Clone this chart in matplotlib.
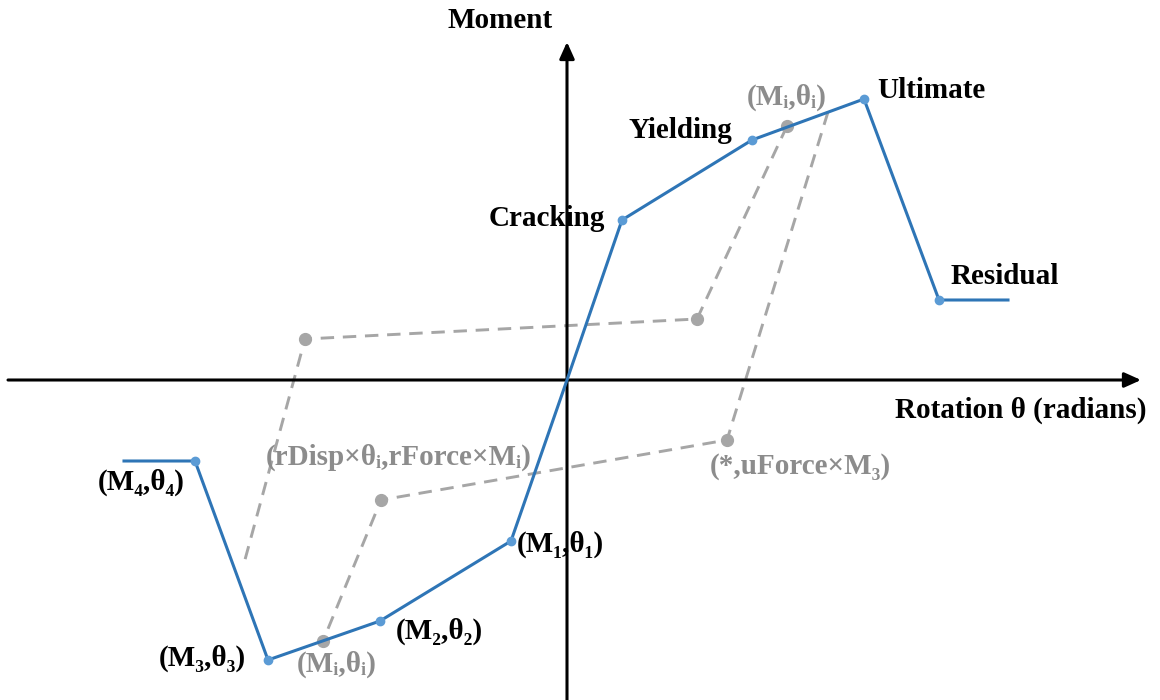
import matplotlib
matplotlib.use("Agg")
import matplotlib.pyplot as plt

plt.rcParams["font.family"] = ["Liberation Serif", "DejaVu Serif"]

# ── backbone curve (rotation, moment), arbitrary units ─────────────
backbone_theta = [-44.3, -37.2, -29.9, -18.7, -5.6, 0.0, 5.5, 18.5, 29.7, 37.2, 44.1]
backbone_M = [-8.1, -8.1, -28.0, -24.1, -16.1, 0.0, 16.0, 24.0, 28.1, 8.0, 8.0]
# which backbone points get a dot
backbone_dot = [False, True, True, True, True, False, True, True, True, True, False]

# ── unloading / reloading paths ────────────────────────────────────
path1_theta = [22.0, 13.0, -26.2, -32.4]
path1_M = [25.4, 6.1, 4.1, -18.7]
path1_dot = [True, True, True, False]

path2_theta = [26.1, 16.0, -18.6, -24.4]
path2_M = [26.8, -6.0, -12.0, -26.1]
path2_dot = [False, True, True, True]

BLUE = "#2e75b6"
BLUE_DOT = "#5b9bd5"
GRAY = "#a6a6a6"
GRAY_TXT = "#8c8c8c"

fig = plt.figure(figsize=(11.6, 7), dpi=100)
ax = fig.add_axes([0, 0, 1, 1])
ax.set_xlim(-56.7, 59.3)
ax.set_ylim(-32.0, 38.0)
ax.axis("off")

# axes with arrows
ax.annotate("", xy=(57.4, 0), xytext=(-55.9, 0),
            arrowprops=dict(arrowstyle="-|>,head_length=1.0,head_width=0.45",
                            color="black", lw=2.2, shrinkA=0, shrinkB=0))
ax.annotate("", xy=(0, 33.8), xytext=(0, -32.5),
            arrowprops=dict(arrowstyle="-|>,head_length=1.0,head_width=0.45",
                            color="black", lw=2.2, shrinkA=0, shrinkB=0))

# gray dashed paths
for th, m, dots in [(path1_theta, path1_M, path1_dot), (path2_theta, path2_M, path2_dot)]:
    ax.plot(th, m, color=GRAY, lw=2.1, dashes=(4.6, 3), zorder=2)
    ax.plot([t for t, d in zip(th, dots) if d], [v for v, d in zip(m, dots) if d],
            "o", color=GRAY, ms=8.5, zorder=3)

# backbone
ax.plot(backbone_theta, backbone_M, color=BLUE, lw=2.2, zorder=4)
ax.plot([t for t, d in zip(backbone_theta, backbone_dot) if d],
        [v for v, d in zip(backbone_M, backbone_dot) if d],
        "o", color=BLUE_DOT, ms=6, zorder=5)

fs = 21
bold = dict(fontsize=fs, fontweight="bold", va="center")
ax.text(-6.7, 35.9, "Moment", ha="center", color="black", **bold)
ax.text(45.4, -3.0, "Rotation θ (radians)", ha="center", color="black", **bold)
ax.text(3.8, 16.2, "Cracking", ha="right", color="black", **bold)
ax.text(11.3, 24.9, "Yielding", ha="center", color="black", **bold)
ax.text(36.4, 29.0, "Ultimate", ha="center", color="black", **bold)
ax.text(43.8, 10.4, "Residual", ha="center", color="black", **bold)
ax.text(-0.7, -16.4, "(M₁,θ₁)", ha="center", color="black", **bold)
ax.text(-42.6, -10.2, "(M₄,θ₄)", ha="center", color="black", **bold)
ax.text(-12.8, -25.1, "(M₂,θ₂)", ha="center", color="black", **bold)
ax.text(-36.5, -27.8, "(M₃,θ₃)", ha="center", color="black", **bold)

ax.text(22.0, 28.3, "(Mᵢ,θᵢ)", ha="center", color=GRAY_TXT, **bold)
ax.text(-23.0, -28.4, "(Mᵢ,θᵢ)", ha="center", color=GRAY_TXT, **bold)
ax.text(-16.8, -7.7, "(rDisp×θᵢ,rForce×Mᵢ)", ha="center", color=GRAY_TXT, **bold)
ax.text(23.3, -8.7, "(*,uForce×M₃)", ha="center", color=GRAY_TXT, **bold)

fig.savefig("out.png", dpi=100)
